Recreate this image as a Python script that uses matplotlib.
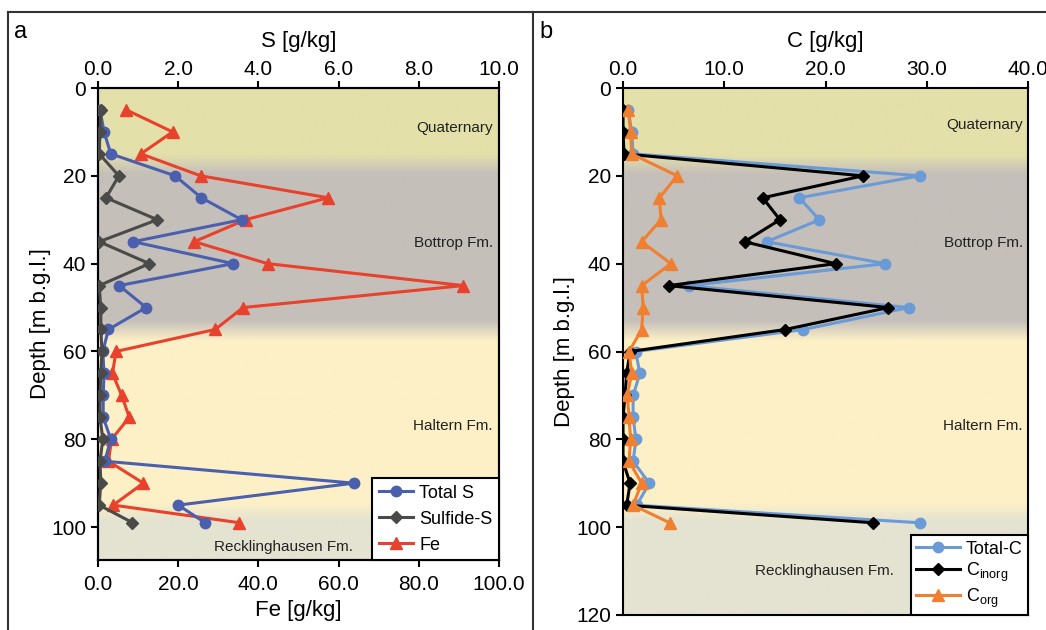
import numpy as np
import matplotlib
matplotlib.use("Agg")
import matplotlib.pyplot as plt
from matplotlib.colors import to_rgb
from matplotlib.lines import Line2D

plt.rcParams.update({"font.family": ["Liberation Sans", "DejaVu Sans"],
                     "mathtext.default": "regular", "axes.linewidth": 1.5})

# ---------------------------------------------------------------- data
depth = [5, 10, 15, 20, 25, 30, 35, 40, 45, 50, 55, 60, 65, 70, 75, 80, 85, 90, 95, 99]

total_s = [0.05, 0.15, 0.32, 1.92, 2.58, 3.58, 0.88, 3.37, 0.53, 1.2, 0.26, 0.12,
           0.15, 0.13, 0.13, 0.32, 0.17, 6.38, 2.0, 2.67]
sulfide_s = [0.07, 0.05, 0.03, 0.52, 0.2, 1.48, 0.03, 1.28, 0.03, 0.07, 0.07, 0.1,
             0.07, 0.05, 0.05, 0.12, 0.05, 0.07, 0.03, 0.86]
fe = [7.1, 18.6, 10.7, 25.6, 57.4, 36.8, 24.0, 42.3, 91.1, 36.2, 29.2, 4.5,
      3.6, 5.9, 7.8, 3.4, 2.6, 11.3, 3.8, 35.2]

total_c = [0.52, 0.85, 1.0, 29.3, 17.4, 19.4, 14.2, 25.9, 6.5, 28.2, 17.8, 1.25,
           1.67, 1.0, 1.0, 1.28, 1.0, 2.6, 1.35, 29.3]
c_inorg = [0.0, 0.0, 0.1, 23.7, 13.8, 15.5, 12.0, 21.0, 4.5, 26.2, 16.0, 0.7,
           0.36, 0.2, 0.0, 0.0, 0.0, 0.7, 0.36, 24.7]
c_org = [0.52, 0.75, 0.85, 5.35, 3.6, 3.75, 1.84, 4.73, 1.84, 2.0, 1.84, 0.6,
         0.85, 0.42, 0.6, 0.75, 0.6, 1.84, 1.0, 4.6]

formations = ["Quaternary", "Bottrop Fm.", "Haltern Fm.", "Recklinghausen Fm."]

# background: unit colours with blurred contacts
Q, B, H, R = "#e4e0aa", "#c5bfba", "#fdf0c6", "#e4e3d1"
stops = [(0, Q), (15, Q), (19.5, B), (53, B), (57.5, H), (94.5, H), (98.5, R), (120, R)]


def background(ax, x0, x1, ymax):
    d = np.linspace(0, ymax, 800)
    sd = [s[0] for s in stops]
    sc = np.array([to_rgb(s[1]) for s in stops])
    rgb = np.stack([np.interp(d, sd, sc[:, i]) for i in range(3)], axis=1)
    ax.imshow(rgb[:, None, :], extent=(x0, x1, ymax, 0), aspect="auto",
              origin="upper", zorder=0, interpolation="bilinear")


def style(ax):
    ax.tick_params(axis="both", labelsize=15, width=1.5, length=5, direction="out")
    for s in ax.spines.values():
        s.set_linewidth(1.5)


def legend(ax, handles, **kw):
    opts = dict(handlelength=1.9, handletextpad=0.35, borderpad=0.35, labelspacing=0.5)
    opts.update(kw)
    lg = ax.legend(handles=handles, loc="lower right", fontsize=13,
                   borderaxespad=0, fancybox=False, edgecolor="black", framealpha=1, **opts)
    lg.get_frame().set_linewidth(1.5)
    lg.set_zorder(10)


fig = plt.figure(figsize=(10.46, 6.30), dpi=100)

# ---------------------------------------------------------------- panel a
axa = fig.add_axes([98/1046, 1-560/630, 401/1046, 472/630])
background(axa, 0, 100, 107.5)
axa.set_xlim(0, 100); axa.set_ylim(107.5, 0)
axa.set_xticks(np.arange(0, 101, 20)); axa.set_xticklabels([f"{v:.1f}" for v in np.arange(0, 101, 20)])
axa.set_yticks(np.arange(0, 101, 20))
axa.set_xlabel("Fe [g/kg]", fontsize=16, labelpad=4)
axa.set_ylabel("Depth [m b.g.l.]", fontsize=16, labelpad=0)
style(axa); axa.tick_params(axis="x", pad=6)

axs = axa.twiny()
axs.set_xlim(0, 10)
axs.set_xticks(np.arange(0, 11, 2)); axs.set_xticklabels([f"{v:.1f}" for v in np.arange(0, 11, 2)])
axs.set_xlabel("S [g/kg]", fontsize=16, labelpad=9)
style(axs); axs.tick_params(axis="x", pad=1.5)

l_fe, = axa.plot(fe, depth, "-^", color="#e8412c", lw=2.2, ms=8, zorder=3, label="Fe")
l_ts, = axs.plot(total_s, depth, "-o", color="#4a5fae", lw=2.2, ms=7.5, zorder=4, label="Total S")
l_ss, = axs.plot(sulfide_s, depth, "-D", color="#4a4a48", lw=2.2, ms=6, zorder=5, label="Sulfide-S")

tx = dict(fontsize=11, ha="right", va="center", color="#222222")
axa.text(98.5, 9, formations[0], zorder=6, **tx)
axa.text(98.5, 35.3, formations[1], zorder=6, **tx)
axa.text(98.5, 77, formations[2], zorder=6, **tx)
axa.text(63.5, 104.6, formations[3], zorder=6, **tx)

legend(axs, [l_ts, l_ss, l_fe])

# ---------------------------------------------------------------- panel b
axb = fig.add_axes([623/1046, 1-615/630, 405/1046, 527/630])
background(axb, 0, 40, 120)
axb.set_xlim(0, 40); axb.set_ylim(120, 0)
axb.xaxis.set_ticks_position("top"); axb.xaxis.set_label_position("top")
axb.set_xticks(np.arange(0, 41, 10)); axb.set_xticklabels([f"{v:.1f}" for v in np.arange(0, 41, 10)])
axb.set_yticks(np.arange(0, 121, 20))
axb.set_xlabel("C [g/kg]", fontsize=16, labelpad=9)
axb.set_ylabel("Depth [m b.g.l.]", fontsize=16, labelpad=1)
style(axb); axb.tick_params(axis="x", pad=1.5)

l_tc, = axb.plot(total_c, depth, "-o", color="#6a9bd6", lw=2.2, ms=7.5, zorder=3, label="Total-C")
l_ci, = axb.plot(c_inorg, depth, "-D", color="black", lw=2.2, ms=6, zorder=4, label="C$_{inorg}$")
l_co, = axb.plot(c_org, depth, "-^", color="#f08030", lw=2.2, ms=8, zorder=5, label="C$_{org}$")

axb.text(39.5, 8.5, formations[0], zorder=6, **tx)
axb.text(39.5, 35.3, formations[1], zorder=6, **tx)
axb.text(39.5, 77, formations[2], zorder=6, **tx)
axb.text(26.8, 110, formations[3], zorder=6, **tx)

legend(axb, [l_tc, l_ci, l_co], labelspacing=0.15, handlelength=2.4, borderpad=0.3)

# ---------------------------------------------------------------- frame + panel letters
for xs, ys in [([8/1046, 8/1046], [0, 1-12/630]), ([8/1046, 1], [1-12/630, 1-12/630]),
               ([533/1046, 533/1046], [0, 1-12/630])]:
    fig.add_artist(Line2D(xs, ys, color="#333333", lw=1.5))
fig.text(14/1046, 1-32/630, "a", fontsize=17, va="center")
fig.text(539/1046, 1-32/630, "b", fontsize=17, va="center")

fig.savefig("out.png", dpi=100)
